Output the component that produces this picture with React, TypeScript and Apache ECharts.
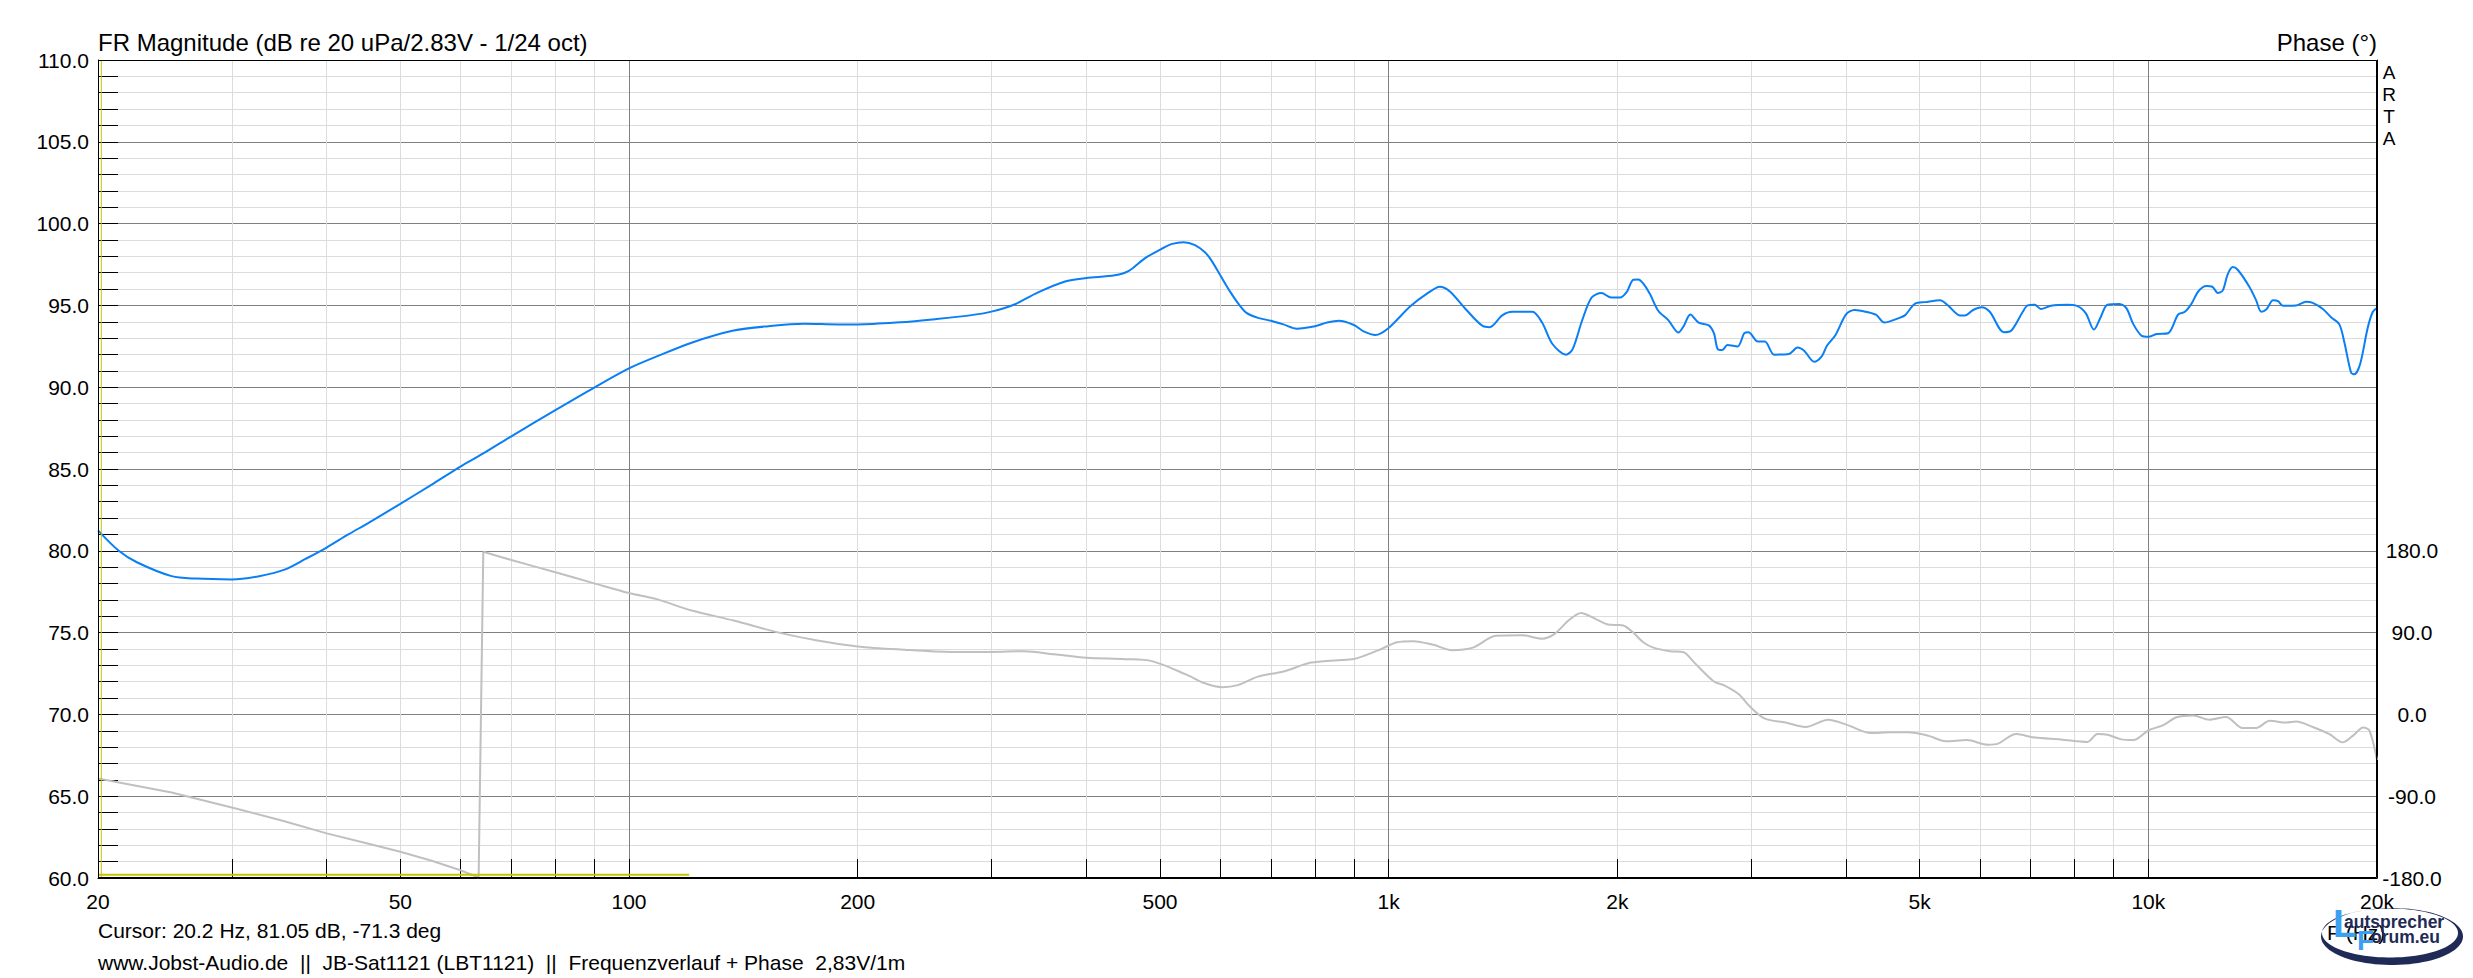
import React, { useEffect, useRef } from "react";
import * as echarts from "echarts";

// ---------- data ----------
const magnitude: [number, number][] = [
  [20, 81.25], [21.3, 80.0], [22.5, 79.3], [25, 78.45], [26.9, 78.3], [30, 78.25], [32.6, 78.45],
  [35.2, 78.85], [37.5, 79.5], [40, 80.2], [42.7, 81.0], [45.3, 81.68], [50, 82.87], [55, 84.05],
  [60, 85.15], [64.3, 85.95], [70, 87.0], [80, 88.6], [90, 89.98], [100, 91.15], [108.8, 91.88],
  [120.9, 92.72], [137.3, 93.46], [152.7, 93.73], [169.8, 93.88], [188.8, 93.84], [200, 93.84],
  [227.5, 93.97], [253, 94.16], [281, 94.39], [300, 94.62], [321, 95.04], [345, 95.78], [375, 96.46],
  [400, 96.67], [436, 96.84], [455, 97.11], [478, 97.89], [503, 98.47], [519, 98.76], [537, 98.86],
  [556, 98.69], [573, 98.25], [584, 97.77], [600, 96.86], [619, 95.81], [634, 95.11], [650, 94.54],
  [673, 94.24], [700, 94.06], [727, 93.84], [757, 93.58], [800, 93.73], [830, 93.95], [860, 94.06],
  [900, 93.8], [927, 93.41], [961, 93.19], [1000, 93.62], [1067, 94.93], [1122, 95.7], [1168, 96.14],
  [1204, 95.85], [1266, 94.72], [1331, 93.73], [1358, 93.67], [1411, 94.39], [1454, 94.61],
  [1546, 94.61], [1592, 93.95], [1643, 92.64], [1711, 91.99], [1746, 92.31], [1797, 94.06],
  [1850, 95.48], [1906, 95.76], [1963, 95.48], [2016, 95.48], [2057, 95.81], [2099, 96.57],
  [2131, 96.59], [2163, 96.35], [2208, 95.7], [2264, 94.67], [2334, 94.1], [2407, 93.34],
  [2445, 93.73], [2495, 94.45], [2559, 93.95], [2639, 93.78], [2680, 93.3], [2713, 92.31],
  [2749, 92.27], [2792, 92.58], [2879, 92.49], [2939, 93.3], [2976, 93.36], [3063, 92.79],
  [3128, 92.79], [3217, 91.99], [3364, 92.03], [3453, 92.42], [3526, 92.21], [3632, 91.55],
  [3716, 91.88], [3775, 92.53], [3875, 93.19], [4000, 94.45], [4101, 94.72], [4184, 94.67],
  [4380, 94.43], [4493, 93.95], [4684, 94.21], [4782, 94.39], [4932, 95.11], [5088, 95.2],
  [5319, 95.31], [5453, 94.98], [5648, 94.39], [5734, 94.39], [5880, 94.72], [6030, 94.89],
  [6184, 94.61], [6455, 93.36], [6598, 93.45], [6835, 94.61], [6937, 95.0], [7086, 95.04],
  [7221, 94.78], [7445, 94.98], [7823, 95.04], [8019, 95.0], [8267, 94.54], [8480, 93.52],
  [8655, 94.28], [8835, 95.04], [9163, 95.09], [9357, 94.83], [9559, 93.84], [9802, 93.14],
  [10000, 93.08], [10254, 93.25], [10619, 93.3], [10949, 94.45], [11172, 94.61], [11400, 95.11],
  [11634, 95.85], [11925, 96.18], [12140, 96.14], [12347, 95.76], [12532, 95.92], [12720, 96.9],
  [12914, 97.34], [13111, 97.18], [13582, 96.14], [13866, 95.31], [14084, 94.61], [14307, 94.76],
  [14595, 95.31], [14815, 95.26], [15041, 94.98], [15654, 95.0], [16131, 95.22], [16462, 95.15],
  [16973, 94.78], [17399, 94.28], [17843, 93.84], [18115, 92.75], [18487, 90.9], [18675, 90.79],
  [19000, 91.4], [19443, 93.62], [19749, 94.61], [20000, 94.83],
];

const phase: [number, number][] = [
  [20, -70.5], [25, -86], [30, -102.4], [35, -117], [40, -130.9], [45, -141.5], [50, -151.2],
  [55, -161], [60, -171.5], [63.4, -179.5], [64.3, 179], [70, 169.9], [80, 156.4], [90, 144.2],
  [100, 133.5], [108.8, 126.8], [120.9, 114.3], [137.3, 103.3], [156, 90.8], [177, 81.3],
  [200, 74.8], [227.5, 71.4], [266, 68.7], [300, 68.7], [331, 69.5], [363, 66.1], [400, 62.3],
  [450, 60.8], [488, 58.6], [541, 44.0], [573, 34.2], [604, 29.9], [633, 32.2], [673, 41.6],
  [727, 47.2], [790, 57.0], [857, 59.7], [900, 60.9], [970, 70.7], [1026, 79.4], [1078, 80.6],
  [1145, 76.6], [1211, 70.7], [1291, 73.5], [1384, 86.5], [1497, 87.2], [1592, 83.3], [1650, 88.0],
  [1728, 103.8], [1791, 111.6], [1874, 104.9], [1943, 99.0], [2003, 98.3], [2036, 97.9],
  [2099, 90], [2163, 79.4], [2231, 73.5], [2346, 69.6], [2445, 68.4], [2520, 57.8], [2680, 36.2],
  [2761, 32.2], [2888, 22.4], [2989, 8.6], [3128, -4.7], [3330, -9.0], [3538, -13.8],
  [3790, -5.9], [4020, -11.8], [4311, -20.4], [4582, -19.7], [4825, -19.7], [5139, -23.6],
  [5408, -29.5], [5768, -28.3], [6152, -33.4], [6342, -32.2], [6700, -21.6], [7086, -25.5],
  [7670, -27.5], [8313, -30.3], [8571, -21.6], [8835, -22.4], [9213, -27.5], [9559, -28.3],
  [10000, -17.7], [10463, -11.8], [10894, -3.1], [11458, -1.2], [12035, -5.9], [12657, -2.8],
  [13307, -14.9], [13866, -14.9], [14449, -7.1], [15195, -9.0], [15654, -7.9], [16462, -13.8],
  [17313, -21.6], [18025, -30.7], [18581, -23.6], [19185, -14.5], [19546, -17.7], [20000, -50],
];

// yellow cursor / marker lines
const cursorFreq = 20.2;
const markerLine: [number, number][] = [[20, 60.2], [120, 60.2]];

// axes
const freqMin = 20;
const freqMax = 20000;
const tickFreqs = [
  20, 30, 40, 50, 60, 70, 80, 90, 100, 200, 300, 400, 500, 600, 700, 800, 900,
  1000, 2000, 3000, 4000, 5000, 6000, 7000, 8000, 9000, 10000, 20000,
];
const majorFreqs = [100, 1000, 10000];
const labelFreqs = [20, 50, 100, 200, 500, 1000, 2000, 5000, 10000, 20000];
const labelTexts = ["20", "50", "100", "200", "500", "1k", "2k", "5k", "10k", "20k"];
const dbMin = 60;
const dbMax = 110;
const dbStep = 5;
const phaseMin = -180;
const phaseMax = 720;
const phaseStep = 90;
const phaseLabelTop = 180;

// texts
const titleText = "FR Magnitude (dB re 20 uPa/2.83V - 1/24 oct)";
const phaseTitle = "Phase (°)";
const cursorText = "Cursor: 20.2 Hz, 81.05 dB, -71.3 deg";
const footerText = "www.Jobst-Audio.de  ||  JB-Sat1121 (LBT1121)  ||  Frequenzverlauf + Phase  2,83V/1m";
const xAxisName = "F (Hz)";

const FONT = "'Liberation Sans', Arial, Helvetica, sans-serif";
const lg = (f: number) => Math.log10(f);

function ellipsePts(cx: number, cy: number, rx: number, ry: number, n: number, rev: boolean) {
  const pts: number[][] = [];
  for (let i = 0; i <= n; i++) {
    const t = ((rev ? n - i : i) / n) * Math.PI * 2;
    pts.push([cx + rx * Math.cos(t), cy + ry * Math.sin(t)]);
  }
  return pts;
}

function txt(text: string, x: number, y: number, size: number, align: string, extra: any = {}) {
  return {
    type: "text",
    x,
    y,
    z: 50,
    silent: true,
    style: {
      text,
      fill: extra.fill || "#000",
      fontSize: size,
      fontFamily: FONT,
      fontWeight: extra.fontWeight || "normal",
      align,
      textAlign: align,
      verticalAlign: "middle",
      textVerticalAlign: "middle",
      lineHeight: extra.lineHeight,
    },
  };
}

export default function App() {
  const ref = useRef<HTMLDivElement>(null);

  useEffect(() => {
    if (!ref.current) return;
    const chart = echarts.init(ref.current, undefined, { renderer: "svg" });

    const magData = magnitude.map(([f, v]) => [lg(f), v]);
    let wrap = -1;
    for (let i = 0; i < phase.length - 1; i++) {
      if (Math.abs(phase[i + 1][1] - phase[i][1]) > 180) wrap = i;
    }
    const phLow = phase.slice(0, wrap + 1).map(([f, v]) => [lg(f), v]);
    const phJump = phase.slice(wrap, wrap + 2).map(([f, v]) => [lg(f), v]);
    const phHigh = phase.slice(wrap + 1).map(([f, v]) => [lg(f), v]);

    const phaseStyle = { color: "#c0c0c0", width: 2 };
    const phaseSeries = (data: number[][], smooth: number) => ({
      type: "line",
      xAxisIndex: 0,
      yAxisIndex: 1,
      data,
      showSymbol: false,
      symbol: "none",
      smooth,
      lineStyle: phaseStyle,
      z: 3,
      silent: true,
    });

    const cx = 2392;
    const cy = 936.5;
    const crescent = ellipsePts(cx, cy, 71, 28.5, 90, false).concat(
      ellipsePts(cx - 2, cy - 3.5, 68, 24.5, 90, true)
    );

    const option: any = {
      animation: false,
      backgroundColor: "#ffffff",
      grid: { left: 98, right: 96, top: 60, bottom: 100, containLabel: false },
      xAxis: [
        {
          type: "value",
          min: lg(freqMin),
          max: lg(freqMax),
          position: "bottom",
          axisLine: { show: true, onZero: false, lineStyle: { color: "#000", width: 1 } },
          axisTick: {
            show: true,
            inside: true,
            length: 19,
            lineStyle: { color: "#000", width: 1 },
            customValues: tickFreqs.map(lg),
          },
          axisLabel: {
            show: true,
            customValues: labelFreqs.map(lg),
            formatter: (v: number) => {
              const i = labelFreqs.findIndex((f) => Math.abs(lg(f) - v) < 1e-6);
              return i >= 0 ? labelTexts[i] : "";
            },
            color: "#000",
            fontSize: 21,
            fontFamily: FONT,
            margin: 13,
          },
          splitLine: { show: true, lineStyle: { color: "#dcdcdc", width: 1 } },
        },
        {
          type: "value",
          min: lg(freqMin),
          max: lg(freqMax),
          position: "top",
          axisLine: { show: false, onZero: false },
          axisTick: { show: false, customValues: majorFreqs.map(lg) },
          axisLabel: { show: false },
          splitLine: { show: true, lineStyle: { color: "#808080", width: 1 } },
        },
      ],
      yAxis: [
        {
          type: "value",
          min: dbMin,
          max: dbMax,
          interval: dbStep,
          position: "left",
          axisLine: { show: true, onZero: false, lineStyle: { color: "#000", width: 1 } },
          axisTick: { show: true, inside: true, length: 20, lineStyle: { color: "#000" } },
          minorTick: { show: true, splitNumber: 5, length: 20, lineStyle: { color: "#000" } },
          axisLabel: {
            formatter: (v: number) => v.toFixed(1),
            color: "#000",
            fontSize: 21,
            fontFamily: FONT,
            margin: 9,
          },
          splitLine: { show: true, lineStyle: { color: "#808080", width: 1 } },
          minorSplitLine: { show: true, lineStyle: { color: "#dcdcdc", width: 1 } },
        },
        {
          type: "value",
          min: phaseMin,
          max: phaseMax,
          interval: phaseStep,
          position: "right",
          axisLine: { show: true, onZero: false, lineStyle: { color: "#000", width: 1 } },
          axisTick: { show: false },
          axisLabel: {
            formatter: (v: number) => (v <= phaseLabelTop ? v.toFixed(1) : ""),
            color: "#000",
            fontSize: 21,
            fontFamily: FONT,
            align: "center",
            margin: 35,
          },
          splitLine: { show: false },
        },
      ],
      series: [
        {
          type: "line",
          xAxisIndex: 0,
          yAxisIndex: 0,
          data: magData,
          showSymbol: false,
          symbol: "none",
          smooth: 0.3,
          lineStyle: { color: "#0a7ff5", width: 2 },
          z: 4,
          silent: true,
        },
        phaseSeries(phLow, 0),
        phaseSeries(phJump, 0),
        phaseSeries(phHigh, 0.3),
        {
          type: "line",
          xAxisIndex: 0,
          yAxisIndex: 0,
          data: markerLine.map(([f, v]) => [lg(f), v]),
          showSymbol: false,
          symbol: "none",
          lineStyle: { color: "#c4c400", width: 2 },
          z: 5,
          silent: true,
        },
        {
          type: "line",
          xAxisIndex: 0,
          yAxisIndex: 0,
          data: [[lg(cursorFreq), dbMin], [lg(cursorFreq), dbMax]],
          showSymbol: false,
          symbol: "none",
          lineStyle: { color: "#c4c400", width: 1 },
          z: 5,
          silent: true,
        },
      ],
      graphic: {
        elements: [
          {
            type: "rect",
            z: 60,
            silent: true,
            shape: { x: 98.5, y: 60.5, width: 2278, height: 817 },
            style: { fill: "none", stroke: "#000", lineWidth: 1 },
          },
          txt(titleText, 98, 42, 24, "left"),
          txt(phaseTitle, 2377, 42, 24, "right"),
          txt("A\nR\nT\nA", 2389, 105, 19, "center", { lineHeight: 22 }),
          txt(cursorText, 98, 930, 21, "left"),
          txt(footerText, 98, 962, 21, "left"),
          txt(xAxisName, 2327, 932, 21, "left"),
          {
            type: "polygon",
            z: 70,
            silent: true,
            shape: { points: crescent },
            style: { fill: "#1f2b56" },
          },
          { ...txt("autsprecher", 2344, 922, 17.5, "left", { fill: "#1f2b56", fontWeight: "bold" }), z: 71 },
          { ...txt("orum.eu", 2371, 936.5, 17.5, "left", { fill: "#1f2b56", fontWeight: "bold" }), z: 71 },
          { ...txt("L", 2333, 923, 39, "left", { fill: "#3d9ff2", fontWeight: "bold" }), z: 72 },
          { ...txt("F", 2357, 940, 28, "left", { fill: "#3d9ff2", fontWeight: "bold" }), z: 72 },
        ],
      },
    };

    chart.setOption(option);
    return () => chart.dispose();
  }, []);

  return (
    <div
      ref={ref}
      style={{ position: "absolute", left: 0, top: 0, width: 2473, height: 978, background: "#fff" }}
    />
  );
}
